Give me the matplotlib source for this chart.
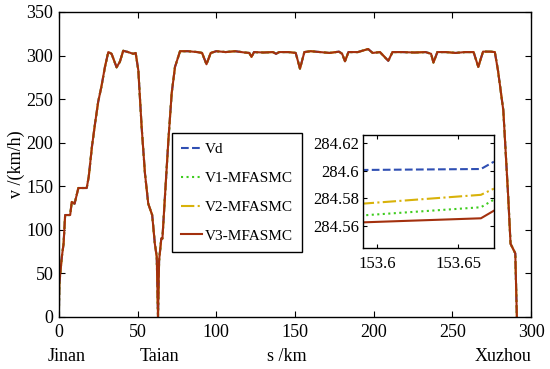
import matplotlib
matplotlib.use('Agg')
from matplotlib import pyplot as plt
from matplotlib.ticker import FuncFormatter

plt.rcParams['font.family'] = ['Liberation Serif', 'DejaVu Serif']

# speed profile along the line (all four curves coincide at this scale)
s_km = [0, 0.3, 1.9, 3, 4, 7.2, 8.2, 10, 12.4, 17.7, 19, 21, 23, 25, 27, 29.3,
        31.4, 33.5, 36.7, 38.8, 40.9, 44, 47.3, 48.8, 50.5, 52.6, 54.7, 56.8,
        59.3, 61, 62.2, 63, 63.7, 65.1, 65.8, 67.4, 69.6, 71.7, 73.8, 77,
        82, 88, 91, 93.8, 96.5, 100, 106, 112, 118, 121, 122.4, 124, 130, 136,
        138, 140, 146, 150.5, 153.2, 156, 160, 166, 172, 178, 180, 181.8, 184,
        190, 196.5, 199.4, 204, 209.3, 212, 218, 226, 233, 236.5, 238, 240.5,
        246, 252, 258, 263.5, 266.5, 269.5, 274, 277, 279, 282.4, 285.5, 287,
        290, 291]
v_kmh = [0, 38, 69, 84, 117, 117, 132, 130, 148, 148, 161, 195, 222, 247, 264, 287,
         304, 302, 286.5, 293, 305.5, 304, 302, 303, 283, 218, 165, 130,
         117, 84, 69, 0, 65, 90, 90, 138, 203, 257, 287, 305,
         305, 304, 303, 290, 303, 305, 304, 305, 303.5, 303, 298.5, 304, 303.5, 304,
         302, 304, 304, 303, 285, 304, 305, 304, 303, 304.5, 302, 293.5, 304,
         304, 307.5, 303, 304, 294, 304, 304, 303.5, 304, 302, 292, 304,
         304, 303, 304, 304, 287, 304.5, 304.5, 304, 283, 237, 138, 84,
         73, 0]

# zoomed window
s_zoom = [153.59, 153.664, 153.672]
vd_zoom = [284.6005, 284.6012, 284.6065]
v1_zoom = [284.5675, 284.5735, 284.579]
v2_zoom = [284.576, 284.5825, 284.587]
v3_zoom = [284.5625, 284.5655, 284.571]

c_vd = '#2f4fb3'
c_v1 = '#3fcc1f'
c_v2 = '#d8b20a'
c_v3 = '#a3300e'

fig = plt.figure(figsize=(5.5, 3.69), dpi=100)
ax = fig.add_axes([0.107, 0.141, 0.8585, 0.8265])

ax.plot(s_km, v_kmh, '--', color=c_vd, lw=1.5, label='Vd')
ax.plot(s_km, v_kmh, ':', color=c_v1, lw=1.5, label='V1-MFASMC')
ax.plot(s_km, v_kmh, '-.', color=c_v2, lw=1.5, label='V2-MFASMC')
ax.plot(s_km, v_kmh, '-', color=c_v3, lw=1.5, label='V3-MFASMC')

ax.set_xlim(0, 300)
ax.set_ylim(0, 350)
ax.set_xticks(range(0, 301, 50))
ax.set_yticks(range(0, 351, 50))
ax.tick_params(direction='in', top=True, right=True, labelsize=13, length=4)
ax.tick_params(axis='x', pad=5)
ax.tick_params(axis='y', pad=4)
for sp in ax.spines.values():
    sp.set_linewidth(1.0)
ax.set_ylabel('v /(km/h)', fontsize=13, labelpad=1)

# station names under the tick labels
trans = ax.get_xaxis_transform()
for x, name in [(5, 'Jinan'), (64, 'Taian'), (145, 's /km'), (282, 'Xuzhou')]:
    ax.text(x, -0.128, name, transform=trans, ha='center', va='center', fontsize=13)

leg = ax.legend(loc='upper left', bbox_to_anchor=(0.239, 0.603), borderaxespad=0,
                fontsize=11, fancybox=False, edgecolor='black', framealpha=1,
                handlelength=1.4, handletextpad=0.2, labelspacing=1.0,
                borderpad=0.6)
leg.get_frame().set_linewidth(1.0)

# inset
axin = fig.add_axes([0.66, 0.328, 0.238, 0.306])
axin.plot(s_zoom, vd_zoom, '--', color=c_vd, lw=1.5)
axin.plot(s_zoom, v1_zoom, ':', color=c_v1, lw=1.5)
axin.plot(s_zoom, v2_zoom, '-.', color=c_v2, lw=1.5)
axin.plot(s_zoom, v3_zoom, '-', color=c_v3, lw=1.5)
axin.set_xlim(153.5914, 153.672)
axin.set_ylim(284.544, 284.6258)
axin.set_xticks([153.6, 153.65])
axin.set_yticks([284.56, 284.58, 284.6, 284.62])
axin.xaxis.set_major_formatter(FuncFormatter(lambda v, p: '%g' % round(v, 3)))
axin.yaxis.set_major_formatter(FuncFormatter(lambda v, p: '%g' % round(v, 3)))
axin.tick_params(direction='in', top=True, right=True, labelsize=12, length=3)
axin.tick_params(axis='x', pad=6)
axin.tick_params(axis='y', pad=3)
for sp in axin.spines.values():
    sp.set_linewidth(1.0)

fig.savefig('out.png', dpi=100)
